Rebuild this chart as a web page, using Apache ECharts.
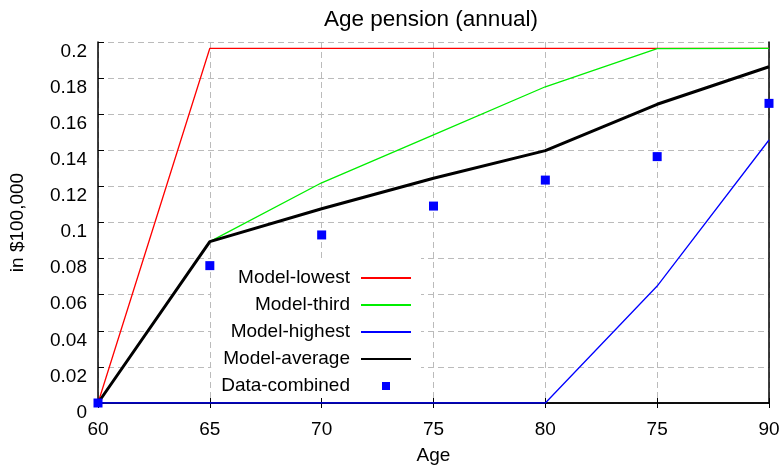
<!DOCTYPE html>
<html>
<head>
<meta charset="utf-8">
<script src="https://cdn.jsdelivr.net/npm/echarts@6/dist/echarts.min.js"></script>
<style>
  html, body { margin: 0; padding: 0; background: #fff; }
  #chart { width: 781px; height: 466px; }
</style>
</head>
<body>
<div id="chart"></div>
<script>
// x labels as printed in the original (the second "75" is really 85)
const ages = ['60', '65', '70', '75', '80', '75', '90'];

const modelLowest  = [0, 0.1965, 0.1965, 0.1965, 0.1965, 0.1965, 0.1965];
const modelThird   = [0, 0.0894, 0.122, 0.1485, 0.1752, 0.1963, 0.1965];
const modelHighest = [0, 0, 0, 0, 0, 0.0648, 0.1457];
const modelAverage = [0, 0.0894, 0.1076, 0.1245, 0.1398, 0.1655, 0.1863];
const dataCombined = [0, 0.0761, 0.0931, 0.1091, 0.1235, 0.1365, 0.166];

const FONT = 'Liberation Sans, Arial, sans-serif';

const chart = echarts.init(document.getElementById('chart'));

function lineSeries(name, data, color, width) {
    return {
        name: name,
        type: 'line',
        data: data,
        symbol: 'none',
        lineStyle: { color: color, width: width },
        itemStyle: { color: color }
    };
}

// legend entry for a line: only the line sample, no dot
function lineItem(name) {
    return { name: name, itemStyle: { color: 'transparent', borderWidth: 0 } };
}

chart.setOption({
    animation: false,
    backgroundColor: '#fff',
    textStyle: { fontFamily: FONT },
    title: {
        text: 'Age pension (annual)',
        left: 319,
        top: 3,
        textStyle: { fontFamily: FONT, fontSize: 22.5, fontWeight: 'normal', color: '#000' }
    },
    grid: { left: 98, right: 12, top: 42, bottom: 63, outerBoundsMode: 'none', containLabel: false },
    legend: {
        orient: 'vertical',
        align: 'right',
        right: 360,
        top: 258,
        padding: [10, 9, 2, 10],
        backgroundColor: '#fff',
        itemWidth: 50,
        itemHeight: 8,
        itemGap: 7,
        textStyle: { fontFamily: FONT, fontSize: 19, color: '#000', lineHeight: 20, padding: [0, 6, 0, 0] },
        data: [
            lineItem('Model-lowest'), lineItem('Model-third'),
            lineItem('Model-highest'), lineItem('Model-average'),
            { name: 'Data-combined', icon: 'path://M0,0L8,0L8,8L0,8Z' }
        ]
    },
    xAxis: [{
        type: 'category',
        data: ages,
        boundaryGap: false,
        name: 'Age',
        nameLocation: 'middle',
        nameGap: 43,
        nameTextStyle: { fontFamily: FONT, fontSize: 19, color: '#000' },
        axisLine: { lineStyle: { color: '#000', width: 1.5 } },
        axisTick: { inside: true, length: 5, lineStyle: { color: '#000' } },
        axisLabel: { fontFamily: FONT, fontSize: 19, color: '#000', margin: 17 },
        splitLine: { show: true, lineStyle: { color: '#bbb', type: [6, 4], width: 1 } }
    }, {
        type: 'category',
        data: ages,
        boundaryGap: false,
        position: 'top',
        axisLine: { lineStyle: { color: '#000', width: 1.5 } },
        axisTick: { inside: true, length: 5, lineStyle: { color: '#000' } },
        axisLabel: { show: false },
        splitLine: { show: false }
    }],
    yAxis: [{
        type: 'value',
        min: 0,
        max: 0.2,
        interval: 0.02,
        name: 'in $100,000',
        nameLocation: 'middle',
        nameGap: 71,
        nameTextStyle: { fontFamily: FONT, fontSize: 19, color: '#000' },
        axisLine: { show: true, lineStyle: { color: '#000', width: 1.5 } },
        axisTick: { show: true, inside: true, length: 6, lineStyle: { color: '#000' } },
        // labels hang below their tick in the original
        axisLabel: { fontFamily: FONT, fontSize: 19, color: '#000', margin: 11, verticalAlign: 'top', lineHeight: 19 },
        splitLine: { show: true, lineStyle: { color: '#bbb', type: [6, 4], width: 1 } }
    }, {
        type: 'value',
        min: 0,
        max: 0.2,
        interval: 0.02,
        position: 'right',
        axisLine: { show: true, lineStyle: { color: '#000', width: 1.5 } },
        axisTick: { show: false },
        axisLabel: { show: false },
        splitLine: { show: false }
    }],
    series: [
        lineSeries('Model-lowest', modelLowest, '#ff0000', 1.3),
        lineSeries('Model-third', modelThird, '#00ee00', 1.3),
        lineSeries('Model-highest', modelHighest, '#0000ff', 1.3),
        lineSeries('Model-average', modelAverage, '#000000', 3),
        {
            name: 'Data-combined',
            type: 'scatter',
            data: dataCombined,
            symbol: 'rect',
            symbolSize: 9,
            itemStyle: { color: '#0000ff', opacity: 1 },
            z: 5
        }
    ]
});
</script>
</body>
</html>
